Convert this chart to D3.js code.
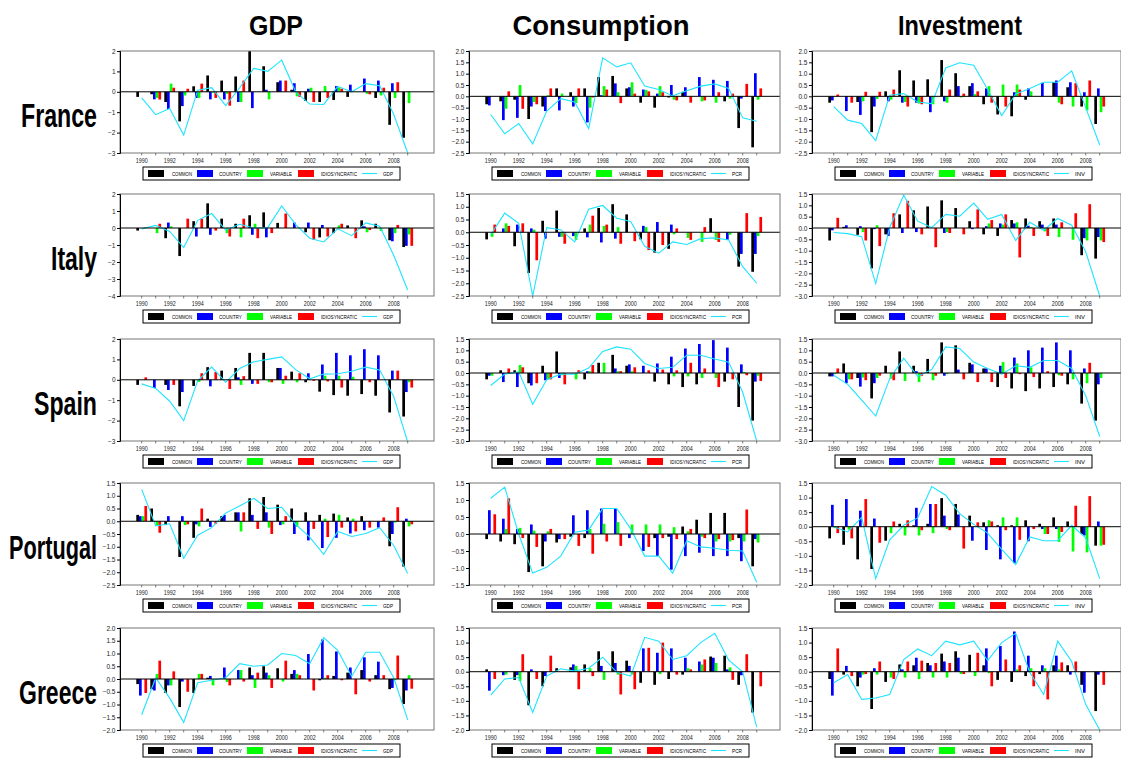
<!DOCTYPE html>
<html lang="en">
<head>
<meta charset="utf-8">
<script src="https://cdn.jsdelivr.net/npm/d3@7"></script>
<style>
body { margin: 0; background: #fff; }
svg { display: block; font-family: "Liberation Sans", Arial, sans-serif; }
.title { font-size: 28px; font-weight: bold; fill: #000; }
.rowlabel { font-size: 34px; font-weight: bold; fill: #000; }
.ytick text { font-size: 6.5px; fill: #222; }
.xlab { font-size: 6.5px; fill: #222; }
.legtext { font-size: 5.5px; fill: #000; }
</style>
</head>
<body>
<div id="chart"></div>
<script>
var years = d3.range(1990, 2010);
var seriesNames = ["COMMON", "COUNTRY", "VARIABLE", "IDIOSYNCRATIC"];
var seriesColors = ["#000000", "#0000ff", "#00ff00", "#ff0000"];
var countries = ["France", "Italy", "Spain", "Portugal", "Greece"];
var columnTitles = ["GDP", "Consumption", "Investment"];
var lineNames = ["GDP", "PCR", "INV"];

// [min, max, tick step] of the y axis, one row per country
var yRanges = [
    [[-3, 2, 1], [-2.5, 2, 0.5], [-2.5, 2, 0.5]],
    [[-4, 2, 1], [-2.5, 1.5, 0.5], [-3, 1.5, 0.5]],
    [[-3, 2, 1], [-3, 1.5, 0.5], [-3, 1.5, 0.5]],
    [[-2.5, 1.5, 0.5], [-1.5, 1.5, 0.5], [-2, 1.5, 0.5]],
    [[-2, 2, 0.5], [-2, 1.5, 0.5], [-2, 1.5, 0.5]]
];

// each panel: common, country, variable, idiosyncratic, total (line)
var franceGdp = [
    [-0.25,-0.12,-0.5,-1.45,0.27,0.8,0.55,0.75,2.0,1.25,0.47,0.1,-0.45,-0.5,-0.4,-0.25,0,-0.3,-1.62,-2.25],
    [0,-0.37,-0.85,-0.7,-0.3,-0.37,-0.37,-0.5,-0.8,0.1,0.55,0.42,0.15,0,0.28,0.35,0.65,0.55,0.42,0],
    [0,-0.3,0.4,-0.18,-0.3,-0.05,-0.1,-0.5,0,-0.37,0,-0.22,0.2,0.28,0.22,0,-0.1,-0.18,-0.3,-0.55],
    [0,-0.38,0.2,0.15,0.4,-0.3,-0.68,0.55,0,0,0.55,-0.25,-0.5,-0.3,0.15,0,-0.12,0.2,0.47,0],
    [-0.3,-1.12,-0.82,-2.12,0.08,0.2,-0.68,0.2,1.15,1.0,1.55,0.0,-0.6,-0.62,0.27,0.0,0.4,0.3,-1.1,-3.0]
];
var francePcr = [
    [-0.35,-0.22,-0.15,-1.0,-0.45,0.35,0.18,0.35,0.85,0.9,0.35,-0.28,-0.5,-0.05,0.2,0,0,-0.22,-1.4,-2.25],
    [-0.4,-1.05,-0.95,-0.45,-0.65,-0.62,-0.45,-1.15,0.05,0.57,0.4,0.3,0.12,0.5,0.4,0.85,0.73,0.68,-0.1,1.02],
    [0,-0.55,0.5,-0.25,0.05,0.12,-0.3,-0.5,0.45,0.18,0.62,0.28,0.45,-0.15,0,-0.22,-0.28,-0.1,0,-0.15],
    [0,0.22,-0.55,-0.35,0.35,0,0.35,-0.05,0.3,-0.3,0.12,0.22,0.18,-0.18,-0.28,-0.18,0.18,0.12,0.55,0.35],
    [-0.8,-1.65,-1.2,-2.1,-0.65,-0.1,-0.25,-1.42,1.7,1.3,1.48,0.45,0.3,0.02,0.25,0.45,0.55,0.35,-0.95,-1.1]
];
var franceInv = [
    [-0.28,0,-0.25,-1.58,0.22,1.15,0.7,0.75,1.6,1.02,0.45,-0.35,-0.8,-0.88,-0.15,0,0.62,0.4,-0.45,-1.22],
    [-0.18,-0.65,-0.82,-0.45,-0.22,-0.28,-0.28,-0.7,-0.22,0.45,0.58,0.35,0,0.18,0.35,0.6,0.7,0.62,0.18,0.35],
    [0,0,-0.22,-0.12,-0.15,-0.25,-0.32,-0.35,-0.28,-0.05,0.1,0.45,0.52,0.52,0.22,0,-0.28,-0.45,-0.62,-0.7],
    [0.08,-0.28,0.2,0.2,0.3,-0.45,-0.35,0,0.3,0.12,0.22,-0.28,-0.45,0.3,0,0,-0.35,0.58,0.7,-0.45],
    [-0.45,-1.05,-1.2,-1.95,0.05,0.12,-0.25,-0.32,1.25,1.48,1.37,0.3,-0.85,0.1,0.35,0.62,0.62,1.12,-0.5,-2.15]
];
var italyGdp = [
    [-0.15,0,-0.6,-1.65,0.4,1.45,0.55,0.25,0.75,0.92,0.3,0,-0.25,-0.55,-0.3,0.15,0.45,0.25,-0.72,-1.12],
    [0,0,0.32,0,-0.5,-0.4,0,0,-0.4,-0.55,0,0.32,0.32,0.18,0,0,0.1,0,-0.78,-1.05],
    [0,-0.3,0.1,0,0,0,-0.3,-0.55,0.25,0,0,0,0,0,0.15,0,-0.25,-0.18,-0.3,-0.38],
    [0.05,0.25,0,0.55,0.55,-0.15,-0.5,0.55,-0.6,-0.3,0.85,0,-0.7,-0.5,0.25,-0.6,-0.12,0,0.18,-1.05],
    [-0.05,0.15,-0.2,-1.15,0.45,0.85,-0.12,0.22,0.0,0.02,1.3,0.2,-0.6,-0.82,-0.05,-0.45,0.3,0.1,-1.6,-3.65]
];
var italyPcr = [
    [-0.28,0,-0.55,-1.6,0.45,0.85,0,0.15,0.95,1.1,0.7,-0.28,-0.8,-0.65,0,0,0.55,0,-1.35,-1.55],
    [0,0.15,0.3,0.15,-0.25,-0.18,-0.15,-0.2,-0.4,-0.25,0,0.25,0.4,0.3,0,0,0,-0.3,-0.85,-0.85],
    [-0.18,0.35,0,0.1,0,-0.18,-0.3,0.3,0.25,0.2,0,0.2,0,-0.08,-0.22,-0.38,-0.3,-0.1,0,-0.15],
    [0.3,0.25,0.35,-1.1,0,-0.45,0,0.65,0.3,-0.45,-0.35,-0.7,-0.5,0.15,-0.3,0.2,-0.38,0,0.75,0.6],
    [-0.1,0.75,0.35,-2.5,0.18,0.1,-0.38,0.9,1.05,0.55,0.42,-0.55,-0.82,-0.38,-0.48,-0.25,-0.22,-0.3,-1.35,-2.0]
];
var italyInv = [
    [-0.55,0.05,-0.3,-1.78,-0.28,0.6,0.78,0.95,1.22,0.88,0.3,-0.28,-0.35,0.35,0.42,0.3,0.42,0,-1.2,-1.35],
    [-0.1,0.12,0.08,-0.05,-0.35,-0.22,-0.18,0,-0.22,0,-0.05,0.08,0.2,0.2,0.1,0.15,0.15,0,-0.45,-0.4],
    [0,0,-0.18,0.12,0,0,0,0,-0.18,0,0,0.2,0.15,0.25,0.05,-0.15,-0.4,-0.52,-0.55,-0.55],
    [0.45,0,-0.55,-0.8,0.65,1.2,-0.28,-0.85,-0.22,-0.28,0.82,0.35,0.6,-1.3,-0.35,-0.35,0.25,0.65,1.05,-0.62],
    [-0.2,-0.25,-0.38,-2.45,0.02,1.45,0.3,0.02,0.6,0.52,1.1,0.38,0.6,-0.55,0.25,-0.1,0.42,0.12,-1.05,-3.0]
];
var spainGdp = [
    [-0.25,0,-0.25,-1.3,-0.3,0.62,0.45,0.58,1.32,1.32,0.58,0.4,-0.12,-0.58,-0.75,-0.78,-0.7,-0.78,-1.6,-1.8],
    [0,-0.4,-0.5,-0.6,0,-0.32,0,0.12,-0.2,0,0.58,0,0.32,0.75,1.32,1.2,1.5,1.2,0.45,-0.6],
    [0,0,0,0,-0.1,0,0,-0.25,0,-0.12,-0.2,-0.12,0,0.2,0.2,0.15,0,0,0,-0.12],
    [0.12,0,-0.25,0,0.32,0.38,-0.45,0.18,-0.2,-0.12,0.2,0.32,-0.05,-0.08,-0.38,0,-0.12,0,0.45,-0.38],
    [-0.2,-0.42,-1.05,-2.0,-0.05,0.62,-0.12,0.55,0.88,1.0,1.12,0.5,0.05,0.28,0.3,0.42,0.62,0.48,-0.82,-3.05]
];
var spainPcr = [
    [-0.28,0.12,0.12,-0.45,0.32,0.95,0,-0.28,0.45,0.8,0.32,0,-0.38,-0.5,-0.62,-0.5,0,-0.38,-1.5,-2.1],
    [-0.12,-0.4,-0.62,-0.55,-0.32,-0.22,0,0.08,0,0.2,0.38,0.32,0.42,0.72,1.08,1.28,1.45,1.12,0.38,-0.38],
    [-0.12,0,0.35,0,-0.28,-0.1,-0.28,0.08,0.45,0.08,0.08,0,0,-0.15,-0.15,-0.22,-0.22,0,0.05,-0.12],
    [0,0.2,0.25,-0.45,-0.28,-0.5,0.12,0.35,0,0.08,0.25,0.12,0.15,0.12,0.45,0.2,-0.62,-0.28,-0.1,-0.35],
    [-0.55,-0.05,0.05,-1.38,-0.3,-0.05,-0.05,0.22,0.95,1.15,1.05,0.42,0.2,0.25,0.78,0.78,0.62,0.48,-0.85,-3.0]
];
var spainInv = [
    [-0.15,0.42,-0.22,-1.12,0.32,0.95,0.32,0.62,1.35,1.22,0.45,0.2,-0.62,-0.68,-0.8,-0.68,-0.62,-0.5,-1.35,-2.1],
    [-0.15,-0.45,-0.6,-0.45,0,0,0.08,0,-0.12,0.15,0.38,0.2,0.32,0.68,1.0,1.12,1.35,1.0,0.2,-0.5],
    [-0.05,-0.28,-0.2,-0.22,-0.25,-0.35,-0.4,-0.32,-0.05,0,0,0,0.48,0.42,0.25,0,-0.1,-0.28,-0.45,-0.22],
    [0.2,-0.28,-0.32,-0.12,-0.32,0,-0.12,-0.12,0,-0.28,-0.4,-0.4,-0.22,-0.05,-0.18,0.08,-0.12,0,0.45,0],
    [-0.1,-0.5,-1.2,-1.9,-0.25,0.65,-0.15,0.15,1.15,1.08,0.48,0.2,-0.05,0.32,0.25,0.55,0.55,0.2,-1.0,-2.8]
];
var portugalGdp = [
    [0.25,0.5,-0.15,-1.4,-0.65,0.1,0.2,0.35,0.9,0.95,0.65,0.5,0.35,0.25,0.3,0.15,0.2,0,-0.98,-1.78],
    [0.2,0,0.2,0.2,-0.12,-0.22,0.25,0.35,0.25,0.35,-0.15,-0.5,-0.75,-1.05,-0.65,-0.48,-0.35,-0.25,-0.5,0.1],
    [0.2,-0.15,0,-0.15,-0.2,0,0,-0.4,0,-0.25,-0.12,-0.22,0,0.1,0.25,0.1,0,0,-0.05,-0.2],
    [0.6,-0.45,0,-0.12,0.5,-0.1,0,0.35,-0.3,-0.5,0.2,0,-0.3,-0.62,-0.25,-0.4,-0.25,0.15,0.55,-0.12],
    [1.25,-0.18,-0.1,-1.45,-0.55,-0.25,0.32,0.6,0.9,0.5,0.55,-0.12,-0.62,-1.3,-0.4,-0.6,-0.48,-0.25,-0.95,-2.05]
];
var portugalPcr = [
    [-0.15,-0.22,-0.3,-1.12,-0.95,-0.25,-0.08,-0.12,0,0,0,0,-0.12,-0.08,0.22,0.42,0.62,0.62,-0.12,-0.95],
    [0.7,0.45,0.15,0.28,-0.22,-0.15,0.55,0.7,0.75,0.75,-0.12,-0.5,-0.65,-1.05,-0.65,-0.55,-0.65,-0.65,-0.8,-0.15],
    [0,0.15,0.18,0.1,0.08,0,0,0.15,0.3,0.35,0.28,0.28,0.28,0.2,0.08,-0.08,-0.22,-0.22,-0.22,-0.25],
    [0.58,1.05,-0.12,-0.38,0.15,-0.15,-0.35,-0.58,-0.22,-0.35,0,-0.38,-0.12,-0.15,0.15,-0.12,-0.15,-0.18,0.72,0],
    [1.05,1.38,0.0,-1.15,-0.98,-0.65,0.05,0.12,0.75,0.75,0.15,-0.65,-0.65,-1.15,-0.2,-0.38,-0.42,-0.48,-0.5,-1.42]
];
var portugalInv = [
    [-0.4,-0.62,-1.12,-1.45,-0.48,0.1,0.05,0.1,0.98,0.78,0.38,0.15,0.05,0.05,0.22,0.1,0.32,0.18,-0.25,-0.65],
    [0.75,0.95,0.55,0.28,0,0,0.65,0.78,0.38,0.42,-0.48,-0.8,-1.12,-1.25,-0.5,-0.08,-0.08,0,-0.3,0.18],
    [-0.05,-0.1,0,0,-0.22,-0.3,-0.3,-0.22,-0.08,0,0,0.22,0.32,0.32,0,-0.25,-0.52,-0.85,-0.88,-0.65],
    [-0.22,-0.4,0.95,-0.55,0.18,0.22,-0.12,0.78,-0.12,-0.75,0.15,0.18,-0.12,-0.45,-0.08,-0.25,-0.18,0.72,1.05,-0.62],
    [0.0,-0.18,0.32,-1.78,-0.45,0.05,0.3,1.38,1.08,0.45,0.08,-0.22,-0.78,-1.3,-0.35,-0.48,-0.48,0.05,-0.38,-1.78]
];
var greeceGdp = [
    [-0.2,-0.4,-0.55,-1.1,-0.55,0.05,0,0,0.45,0.5,0.42,0.2,0,-0.05,0.12,0.25,0.35,0.15,-0.4,-0.98],
    [-0.65,-0.45,-0.25,-0.1,0,0.12,0.45,0.35,0.15,0.25,0,0.35,0.98,1.55,1.08,0.45,0.85,0.68,-0.35,-0.45],
    [0,0.2,-0.25,0,0.2,-0.25,-0.12,0.35,-0.35,0.15,-0.1,0.2,0,0.05,0,0,0,0,-0.05,0.15],
    [-0.55,0.72,0.3,-0.5,0.2,0,-0.25,-0.1,0.25,-0.35,0.72,0.15,-0.45,0.15,-0.05,-0.6,-0.1,0.15,0.92,-0.38],
    [-1.4,0.05,-0.75,-1.7,-0.15,-0.05,0.05,0.6,0.5,0.55,1.0,0.92,0.6,1.62,1.12,0.1,1.05,1.05,0.05,-1.6]
];
var greecePcr = [
    [0.08,0,-0.28,-1.15,-0.5,0.12,0.15,0.25,0.7,0.7,0.38,-0.38,-0.45,-0.25,-0.1,0,0.52,0.55,-0.45,-1.4],
    [-0.65,-0.12,-0.12,0.08,-0.15,0,0.25,0,0.2,0.3,0.2,0.8,0.65,0.8,0.48,0.35,0.48,0.08,-0.12,0],
    [0,-0.1,-0.32,0,0,0,0.2,0.12,-0.28,-0.1,-0.1,0,-0.08,0,0.12,0.25,0.3,0.15,0,0],
    [-0.25,0,0.6,-0.25,0.55,0,-0.6,-0.15,0,-0.78,-0.6,0.82,1.0,-0.1,0.08,0.42,0,-0.28,0.6,-0.5],
    [-0.8,-0.25,-0.2,-1.4,-0.15,0.1,0.02,0.12,0.5,-0.02,-0.15,1.18,1.05,0.42,0.55,1.0,1.32,0.4,0.0,-1.9]
];
var greeceInv = [
    [-0.25,-0.1,-0.5,-1.28,-0.35,0.25,0.22,0.3,0.62,0.7,0.58,0.22,-0.28,-0.35,-0.15,-0.08,0.22,0.22,-0.45,-1.35],
    [-0.82,0.2,-0.2,0.12,0,0.08,0.48,0.22,0.35,0.48,0,0.8,0.88,1.38,0.55,0.22,0.55,-0.1,-0.72,-0.1],
    [0,0,-0.1,-0.1,-0.2,-0.2,-0.25,-0.2,-0.2,-0.08,-0.15,-0.05,0,0.08,0.12,0.12,0.08,0,0,0],
    [0.8,-0.15,-0.08,0.35,-0.25,0.35,0.38,0.3,0.3,-0.08,0.65,-0.5,0.42,0.22,-0.5,-0.95,0.32,0.35,0,-0.45],
    [-0.38,-0.1,-0.95,-0.9,-0.78,0.42,0.78,0.55,1.05,0.92,1.05,0.38,1.0,1.32,-0.02,-0.78,1.05,0.35,-1.12,-2.0]
];

var panels = [
    [franceGdp, francePcr, franceInv],
    [italyGdp, italyPcr, italyInv],
    [spainGdp, spainPcr, spainInv],
    [portugalGdp, portugalPcr, portugalInv],
    [greeceGdp, greecePcr, greeceInv]
];

var W = 1121, H = 758;
var colLeft = [120, 469, 812],
    colWidth = [314, 311, 309],
    rowTop = [51, 194, 339, 483, 628],
    plotH = 102,
    step = 14;              // px per year

var svg = d3.select("#chart").append("svg")
    .attr("width", W)
    .attr("height", H);

// column titles
var titleX = [276, 601, 960], titleLen = [54, 177, 124];
columnTitles.forEach(function (t, i) {
    svg.append("text")
        .attr("class", "title")
        .attr("x", titleX[i])
        .attr("y", 35)
        .attr("text-anchor", "middle")
        .attr("textLength", titleLen[i])
        .attr("lengthAdjust", "spacingAndGlyphs")
        .text(t);
});

// country labels: squeezed horizontally with a scale so the box stays true
var labelLen = [76, 46, 63, 88, 78];
countries.forEach(function (c, i) {
    var lg = svg.append("g");
    var t = lg.append("text")
        .attr("class", "rowlabel")
        .attr("text-anchor", "end")
        .text(c);
    var sx = labelLen[i] / t.node().getComputedTextLength();
    lg.attr("transform", "translate(97," + (rowTop[i] + 76) + ") scale(" + sx + ",1)");
});

panels.forEach(function (row, r) {
    row.forEach(function (data, c) {
        drawPanel(data, yRanges[r][c], lineNames[c], colLeft[c], rowTop[r], colWidth[c], r + "_" + c);
    });
});

function drawPanel(data, yr, lineName, left, top, w, id) {
    var g = svg.append("g").attr("transform", "translate(" + left + "," + top + ")");

    var x = d3.scaleLinear()
        .domain([1988.45, 1988.45 + w / step])
        .range([0, w]);
    var y = d3.scaleLinear()
        .domain([yr[0], yr[1]])
        .range([plotH, 0]);
    var sub = d3.scaleBand()
        .domain(seriesNames)
        .range([-5.4, 5.4]);

    g.append("clipPath").attr("id", "clip" + id)
        .append("rect").attr("width", w).attr("height", plotH);

    var plot = g.append("g").attr("clip-path", "url(#clip" + id + ")");

    seriesNames.forEach(function (s, k) {
        plot.selectAll(".bar" + k)
            .data(data[k])
            .enter()
            .append("rect")
            .attr("x", function (d, i) { return x(years[i]) + sub(s); })
            .attr("width", sub.bandwidth())
            .attr("y", function (d) { return Math.min(y(d), y(0)); })
            .attr("height", function (d) { return Math.abs(y(d) - y(0)); })
            .attr("fill", seriesColors[k]);
    });

    // zero line
    g.append("line")
        .attr("x1", 0).attr("x2", w)
        .attr("y1", y(0)).attr("y2", y(0))
        .attr("stroke", "#000").attr("stroke-width", 1);

    var line = d3.line()
        .x(function (d, i) { return x(years[i]); })
        .y(function (d) { return y(d); });

    plot.append("path")
        .datum(data[4])
        .attr("d", line)
        .attr("fill", "none")
        .attr("stroke", "#1ee4ff")
        .attr("stroke-width", 1.1);

    // frame
    g.append("rect")
        .attr("width", w).attr("height", plotH)
        .attr("fill", "none")
        .attr("stroke", "#777")
        .attr("stroke-width", 1);

    var ticks = d3.range(yr[0], yr[1] + 1e-9, yr[2]);
    var fmt = yr[2] < 1 ? d3.format(".1f") : d3.format("d");
    var ax = g.append("g")
        .attr("class", "ytick")
        .call(d3.axisLeft(y).tickValues(ticks).tickSize(3).tickPadding(1.5).tickFormat(fmt));
    ax.select(".domain").attr("stroke", "#000");

    // bottom ticks at every year, labels every second year
    g.selectAll(".xt")
        .data(years)
        .enter()
        .append("line")
        .attr("x1", function (d) { return x(d); })
        .attr("x2", function (d) { return x(d); })
        .attr("y1", plotH).attr("y2", plotH + 2.5)
        .attr("stroke", "#333")
        .attr("stroke-width", 0.6);

    g.selectAll(".xlab")
        .data(years.filter(function (d) { return d % 2 === 0; }))
        .enter()
        .append("text")
        .attr("class", "xlab")
        .attr("x", function (d) { return x(d); })
        .attr("y", plotH + 10)
        .attr("text-anchor", "middle")
        .attr("textLength", 12)
        .attr("lengthAdjust", "spacingAndGlyphs")
        .text(function (d) { return d; });

    // legend
    var lg = g.append("g").attr("transform", "translate(23," + (plotH + 14) + ")");
    lg.append("rect")
        .attr("width", 257).attr("height", 13)
        .attr("fill", "#fff").attr("stroke", "#000").attr("stroke-width", 1);
    var swX = [5, 54, 104, 155], txX = [29, 76, 127, 178], txL = [20, 23, 22, 36];
    seriesNames.forEach(function (s, k) {
        lg.append("rect")
            .attr("x", swX[k]).attr("y", 3)
            .attr("width", 16).attr("height", 7)
            .attr("fill", seriesColors[k]);
        lg.append("text")
            .attr("class", "legtext")
            .attr("x", txX[k]).attr("y", 8.8)
            .attr("textLength", txL[k])
            .attr("lengthAdjust", "spacingAndGlyphs")
            .text(s);
    });
    lg.append("line")
        .attr("x1", 219).attr("x2", 234)
        .attr("y1", 6.5).attr("y2", 6.5)
        .attr("stroke", "#1ee4ff").attr("stroke-width", 1.1);
    lg.append("text")
        .attr("class", "legtext")
        .attr("x", 240).attr("y", 8.8)
        .attr("textLength", 10)
        .attr("lengthAdjust", "spacingAndGlyphs")
        .text(lineName);
}
</script>
</body>
</html>
